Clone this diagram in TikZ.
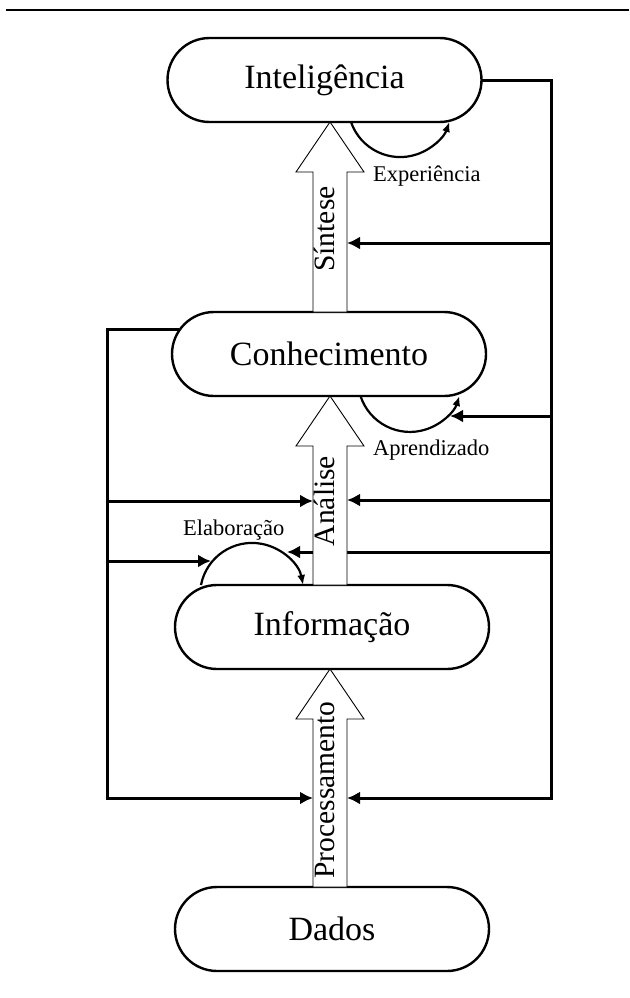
\documentclass[tikz,border=0pt]{standalone}
\usepackage{fontspec}
\setmainfont{Liberation Serif}
\usetikzlibrary{
  positioning,
  calc,
  arrows.meta
  }
\tikzset{
  >=Latex,
  stage/.style={draw, line width=2.4pt, rounded corners=42pt, minimum width=314pt,
    minimum height=84pt, inner sep=0pt, outer sep=0pt, font=\fontsize{34}{40}\selectfont},
  feed/.style={line width=3pt, -{Latex[length=13pt,width=13pt]}},
  loopline/.style={line width=2.2pt, -{Latex[length=10pt,width=8pt]}},
  blockarr/.style={draw=black, fill=white, line width=0.9pt},
  steplab/.style={rotate=90, inner sep=0pt, text height=0.68em, text depth=0pt,
    font=\fontsize{29.5}{32}\selectfont},
  looplab/.style={anchor=west, inner sep=0pt, font=\fontsize{22.5}{26}\selectfont},
}
\newcommand{\blockup}[2]{%
  \draw[blockarr] let \p1=(#1.north -| axis), \p2=(#2.south -| axis) in
    (\x1-17pt,\y1) -- (\x1-17pt,\y2-50pt) -- (\x1-34pt,\y2-50pt) -- (\x2,\y2)
    -- (\x1+34pt,\y2-50pt) -- (\x1+17pt,\y2-50pt) -- (\x1+17pt,\y1) -- cycle;
}

\begin{document}
\begin{tikzpicture}[x=1pt, y=1pt]
  \useasboundingbox (0,0) rectangle (629,-998);
  \draw[line width=2.4pt] (6,-10) -- (629,-10);
% =========================================================
% (A) the four stages
% =========================================================
  \node[stage] (int) at (324.5,-80) {Inteligência};
  \node[stage] (con) at (329,-354) {Conhecimento};
  \node[stage] (inf) at (332,-627) {Informação};
  \node[stage] (dad) at (332,-929) {Dados};
  \coordinate (axis) at (330,0);
  \coordinate (shL) at (313,0);
  \coordinate (shR) at (347,0);
  \coordinate (rbot) at (551,-798);
  \coordinate (lbot) at (107,-798);
% =========================================================
% (B) feedback from the right
% =========================================================
  \draw[feed] (int.east) -| (rbot) -- (rbot -| shR);
  \coordinate (r1) at (551,-243);
  \draw[feed] (r1) -- (r1 -| shR);
  \coordinate (r2) at (551,-416);
  \coordinate (aprin) at (450,-416);
  \draw[feed] (r2) -- (aprin);
  \coordinate (r3) at (551,-500);
  \draw[feed] (r3) -- (r3 -| shR);
  \coordinate (r4) at (551,-552);
  \coordinate (elabin) at (287,-552);
  \draw[feed] (r4) -- (elabin);
% =========================================================
% (C) feedback from the left
% =========================================================
  \draw[feed] ([xshift=7pt,yshift=25pt]con.west) -| (lbot) -- (lbot -| shL);
  \coordinate (l1) at (107,-501);
  \draw[feed] (l1) -- (l1 -| shL);
  \coordinate (l2) at (107,-561);
  \coordinate (elabout) at (211,-561);
  \draw[feed] (l2) -- (elabout);
% =========================================================
% (D) transformations
% =========================================================
  \blockup{con}{int}
  \blockup{inf}{con}
  \blockup{dad}{inf}
  \node[steplab] (sin) at (331,-229) {Síntese};
  \node[steplab] (ana) at (331,-501) {Análise};
  \node[steplab] (pro) at (331,-790) {Processamento};
% =========================================================
% (E) loops
% =========================================================
  \draw[loopline] ([xshift=26.5pt]int.south) arc[start angle=199, end angle=341, radius=52pt];
  \node[looplab] (exp) at (373,-176) {Experiência};
  \draw[loopline] ([xshift=31.5pt]con.south) arc[start angle=198, end angle=342, radius=52pt];
  \node[looplab] (apr) at (373,-450) {Aprendizado};
  \draw[loopline] ([xshift=-131pt]inf.north) arc[start angle=169, end angle=11, radius=52pt];
  \node[looplab] (ela) at (183,-530) {Elaboração};
\end{tikzpicture}
\end{document}
